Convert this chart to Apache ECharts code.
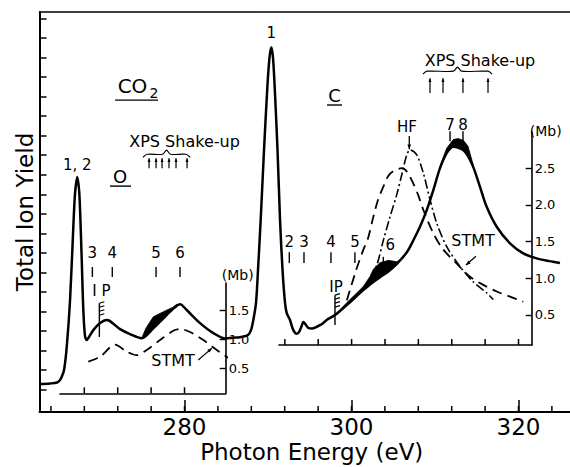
<!DOCTYPE html>
<html><head><meta charset="utf-8">
<script src="https://cdn.jsdelivr.net/npm/echarts@6/dist/echarts.min.js"></script>
<style>html,body{margin:0;padding:0;background:#fff}#c{width:570px;height:467px}</style>
</head><body><div id="c"></div>
<script>
const FONT = 'DejaVu Sans';

// ---- axes ----
const energyMin = 262.63, energyMax = 326.17;          // photon energy (eV)
const energyTicks = [264,268,272,276,280,284,288,292,296,300,304,308,312,316,320,324];
const energyLabelRange = [280, 320], energyLabelStep = 20;
const yieldMin = -1.14, yieldMax = 19.33;              // total ion yield (relative)
const yieldTickRange = [0, 19];

// O-edge inset (Mb)
const oInsetEnergy = [265.09, 284.93];
const oInsetMb = [0.072, 1.974];
const oInsetTicksE = [268,272,276,280];
const oInsetTickMb = [0.5, 1.5];
// C-edge inset (Mb)
const cInsetEnergy = [291.3, 321.58];
const cInsetMb = [0.091, 2.993];
const cInsetTicksE = [292,296,300,304,308,312,316,320];
const cInsetTickMb = [0.5, 2.5];

// ---- total ion yield curve [eV, relative yield] ----
const totalIonYield = [
 [262.63,0.29],[263.89,0.32],[264.73,0.37],[265.09,0.50],[265.29,0.66],[265.57,1.01],[265.89,2.18],
 [266.29,4.59],[266.68,8.32],[266.89,10.06],[267.16,10.88],[267.37,10.22],[267.49,9.19],[267.69,6.63],
 [267.88,4.08],[268.08,2.75],[268.29,2.54],[268.56,2.70],[269.08,3.05],[269.88,3.41],[270.68,3.57],
 [271.08,3.51],[272.28,3.10],[273.47,2.85],[274.87,2.64],[276.26,3.14],[277.46,3.65],[278.66,4.15],
 [279.46,4.38],[280.26,4.08],[281.86,3.41],[283.45,2.90],[284.93,2.62],[285.81,2.66],[286.65,2.69],
 [287.60,2.80],[287.96,3.05],[288.24,3.57],[288.56,4.43],[288.80,6.12],[289.12,8.68],[289.52,12.26],
 [289.92,15.48],[290.18,17.01],[290.40,17.53],[290.60,16.97],[290.80,15.48],[291.14,12.26],[291.44,8.68],
 [291.74,6.12],[292.04,4.43],[292.24,3.92],[292.46,3.72],[292.63,3.57],[293.03,3.05],[293.44,2.87],
 [293.71,2.95],[294.03,3.26],[294.23,3.46],[294.55,3.31],[294.83,3.16],[295.27,3.13],[295.83,3.22],
 [296.47,3.36],[297.03,3.57],[298.02,3.82],[299.43,4.33],[301.41,5.10],[302.22,5.38],[302.61,5.51],
 [303.41,5.76],[304.41,6.05],[305.41,6.43],[306.17,6.79],[306.65,7.05],[307.01,7.31],[308.20,8.34],
 [309.01,9.19],[309.80,10.22],[310.60,11.34],[311.40,12.11],[312.19,12.43],[312.75,12.39],[313.39,12.26],
 [313.95,11.96],[314.59,11.39],[315.39,10.38],[316.19,9.36],[317.39,8.34],[318.98,7.49],[320.57,6.98],
 [322.18,6.72],[323.77,6.58],[324.97,6.48]
];

// ---- shaded (black) regions: lower / upper edges [eV, relative yield] ----
const bandOLower = [[274.87,2.64],[276.26,3.14],[277.46,3.65],[278.66,4.15],[279.07,4.33]];
const bandOUpper = [[274.87,2.64],[275.39,3.16],[276.26,3.73],[277.46,3.99],[278.66,4.23],[279.07,4.38]];
const bandC6Lower = [[298.02,3.82],[299.43,4.33],[301.41,5.10],[302.22,5.38],[302.61,5.51],[303.41,5.76],[304.41,6.05],[305.41,6.43],[306.17,6.79],[306.65,7.05]];
const bandC6Upper = [[298.02,3.82],[299.43,4.45],[301.41,5.28],[302.22,5.80],[302.61,6.16],[303.41,6.50],[304.41,6.62],[305.41,6.55],[306.17,6.72],[306.65,7.05]];
const bandC78Lower = [[310.60,11.34],[311.40,12.11],[312.19,12.43],[312.75,12.39],[313.39,12.26],[313.95,11.96],[314.59,11.39]];
const bandC78Upper = [[310.60,11.44],[311.40,12.36],[312.19,12.80],[312.75,12.85],[313.39,12.77],[313.95,12.46],[314.59,11.49]];
const bands = [[bandOLower,bandOUpper],[bandC6Lower,bandC6Upper],[bandC78Lower,bandC78Upper]];

// ---- theory curves [eV, Mb] ----
const stmtO = [[268.48,0.62],[269.88,0.70],[271.68,0.91],[273.08,0.79],[274.28,0.73],[275.47,0.82],[277.07,0.99],
 [278.66,1.15],[279.46,1.18],[280.66,1.13],[282.25,0.99],[283.86,0.82],[285.05,0.70],[286.25,0.62]];
const stmtC = [[299.43,0.70],[300.54,1.11],[301.41,1.39],[301.98,1.55],[302.61,1.84],[303.17,2.07],[303.81,2.25],
 [304.37,2.39],[305.01,2.46],[306.01,2.50],[306.65,2.45],[307.40,2.29],[307.96,2.14],[308.60,1.93],[309.80,1.61],
 [310.99,1.39],[312.60,1.20],[314.19,1.02],[315.78,0.91],[317.39,0.82],[318.98,0.75],[320.57,0.68]];
const hfC = [[302.22,1.00],[303.02,1.18],[303.81,1.52],[304.61,1.84],[305.41,2.14],[306.01,2.41],[306.61,2.68],
 [307.01,2.75],[307.81,2.68],[308.60,2.43],[309.40,2.07],[310.20,1.75],[311.40,1.43],[312.99,1.16],[314.59,0.95],
 [316.19,0.80],[316.98,0.71]];

// ---- peak assignments and XPS shake-up energies (eV) ----
const oPeaks = [['3',268.96],['4',271.35],['5',276.59],['6',279.46]];
const cPeaks = [['2',292.55],['3',294.31],['4',297.54],['5',300.41],['6',303.81]];
const cPeaks78 = [['7',311.80],['8',313.35]];
const xpsO = [275.75,276.59,277.31,278.14,278.98,280.30];
const xpsC = [309.40,310.96,313.35,316.35];
const ipO = 269.80, ipC = 298.02;
const peakO12 = 267.16, peakC1 = 290.40, hfMax = 306.92;

// ---- layout (pixels) ----
const W = 570, H = 467;
const mainBox = {l:39.5, r:570, t:12, b:412};
const oBox = {l:60, r:225.7, t:283, b:393.3};
const cBox = {l:279, r:531.7, t:132, b:345};

const chart = echarts.init(document.getElementById('c'), null, {renderer:'svg', width:W, height:H});
const black = '#000';

const lin = (v, a0, a1, p0, p1) => p0 + (v - a0) / (a1 - a0) * (p1 - p0);
const ex = (e, box, rng) => lin(e, rng[0], rng[1], box.l, box.r);
const ey = (v, box, rng) => lin(v, rng[0], rng[1], box.b, box.t);

function G(l, r, t, b){ return {left:l, top:t, width:r-l, height:b-t, containLabel:false, outerBoundsMode:'none', show:false}; }

const grids = [
  G(mainBox.l, mainBox.r, mainBox.t, mainBox.b),   // 0 main
  G(oBox.l, oBox.r, oBox.t, oBox.b),               // 1 O inset
  G(cBox.l, cBox.r, cBox.t, cBox.b),               // 2 C inset
  G(ex(energyLabelRange[0],mainBox,[energyMin,energyMax]), ex(energyLabelRange[1],mainBox,[energyMin,energyMax]), mainBox.t, mainBox.b), // 3 labels
  G(mainBox.l, mainBox.r, ey(yieldTickRange[1],mainBox,[yieldMin,yieldMax]), ey(yieldTickRange[0],mainBox,[yieldMin,yieldMax])),       // 4 yield ticks
  G(oBox.l, oBox.r, ey(oInsetTickMb[1],oBox,oInsetMb), ey(oInsetTickMb[0],oBox,oInsetMb)),   // 5 O Mb ticks
  G(cBox.l, cBox.r, ey(cInsetTickMb[1],cBox,cInsetMb), ey(cInsetTickMb[0],cBox,cInsetMb))    // 6 C Mb ticks
];

function ax(extra){
  return Object.assign({type:'value', splitLine:{show:false}, axisLabel:{show:false}, axisTick:{show:false},
    axisLine:{show:false, onZero:false}}, extra);
}
const lineOn = w => ({show:true, onZero:false, lineStyle:{color:black, width:w}});
const tickIn = (len, w) => ({show:true, inside:true, length:len, lineStyle:{color:black, width:w}});

const xAxes = [
  ax({gridIndex:0, position:'bottom', min:energyMin, max:energyMax, axisLine:lineOn(2),
      name:'Photon Energy (eV)', nameLocation:'middle', nameGap:28,
      nameTextStyle:{fontFamily:FONT, fontSize:23, color:black, padding:[0,0,0,14]}}),       // 0
  ax({gridIndex:0, position:'top', min:energyMin, max:energyMax, axisLine:lineOn(1.6)}),    // 1
  ax({gridIndex:1, position:'bottom', min:oInsetEnergy[0], max:oInsetEnergy[1], axisLine:lineOn(1.6)}), // 2
  ax({gridIndex:2, position:'bottom', min:cInsetEnergy[0], max:cInsetEnergy[1], axisLine:lineOn(1.6)}), // 3
  ax({gridIndex:3, position:'bottom', min:energyLabelRange[0], max:energyLabelRange[1], interval:energyLabelStep,
      axisTick:tickIn(12,1.5), axisLabel:{show:true, fontFamily:FONT, fontSize:23, color:black, margin:3}}), // 4
  ax({gridIndex:4, position:'bottom', min:0, max:1}),   // 5 placeholder
  ax({gridIndex:5, position:'bottom', min:0, max:1}),   // 6 placeholder
  ax({gridIndex:6, position:'bottom', min:0, max:1})    // 7 placeholder
];
const mbLabel = {show:true, formatter:v=>v.toFixed(1), fontFamily:FONT, fontSize:13, color:black, margin:3};
const yAxes = [
  ax({gridIndex:0, position:'left', min:yieldMin, max:yieldMax, axisLine:lineOn(2),
      name:'Total Ion Yield', nameLocation:'middle', nameGap:3,
      nameTextStyle:{fontFamily:FONT, fontSize:23, color:black}}),                          // 0
  ax({gridIndex:1, position:'right', min:oInsetMb[0], max:oInsetMb[1], axisLine:lineOn(1.6),
      name:'(Mb)', nameLocation:'end', nameGap:8,
      nameTextStyle:{fontFamily:FONT, fontSize:14, color:black, align:'left', verticalAlign:'middle', padding:[0,0,0,-4]}}), // 1
  ax({gridIndex:2, position:'right', min:cInsetMb[0], max:cInsetMb[1], axisLine:lineOn(1.6),
      name:'(Mb)', nameLocation:'end', nameGap:1,
      nameTextStyle:{fontFamily:FONT, fontSize:14, color:black, align:'left', verticalAlign:'middle', padding:[0,0,0,-2]}}), // 2
  ax({gridIndex:3, min:0, max:1}),                                                          // 3 placeholder
  ax({gridIndex:4, position:'left', min:yieldTickRange[0], max:yieldTickRange[1], interval:1, axisTick:tickIn(7,1.5)}), // 4
  ax({gridIndex:5, position:'right', min:oInsetTickMb[0], max:oInsetTickMb[1], interval:0.5,
      axisTick:tickIn(6,1.4), axisLabel:mbLabel}),                                          // 5
  ax({gridIndex:6, position:'right', min:cInsetTickMb[0], max:cInsetTickMb[1], interval:0.5,
      axisTick:tickIn(6,1.4), axisLabel:mbLabel})                                           // 6
];

// tick marks along an energy axis: one group, each tick placed via the grid's own scale
function tickGroup(ticks, yBase, len){
  return function(params, api){
    return {type:'group', children: ticks.map(e => {
      const p = api.coord([e, yBase]);
      return {type:'rect', shape:{x:p[0]-0.75, y:p[1]-len, width:1.5, height:len}, style:{fill:black}};
    })};
  };
}

function renderBands(params, api){
  const pair = bands[params.dataIndex];
  const pts = pair[0].map(p => api.coord(p)).concat(pair[1].slice().reverse().map(p => api.coord(p)));
  return {type:'polygon', shape:{points:pts}, style:{fill:black, stroke:black, lineWidth:0.8}};
}

function renderAnnotations(params, api){
  const P = (e,y) => api.coord([e,y]);
  const kids = [];
  const txt = (e,y,s,size,dx,dy) => { const p = P(e,y); kids.push({type:'text', x:p[0]+(dx||0), y:p[1]+(dy||0),
    style:{text:s, fontSize:size, fontFamily:FONT, fill:black, align:'center', verticalAlign:'middle'}}); };
  const seg = (e1,y1,e2,y2,w) => { const a=P(e1,y1), b=P(e2,y2); kids.push({type:'line',
    shape:{x1:a[0],y1:a[1],x2:b[0],y2:b[1]}, style:{stroke:black, lineWidth:w||1.4}}); };
  const head = (a,b,h) => { const ang=Math.atan2(b[1]-a[1], b[0]-a[0]);
    kids.push({type:'polygon', shape:{points:[b,[b[0]-h*Math.cos(ang-0.38), b[1]-h*Math.sin(ang-0.38)],
      [b[0]-h*Math.cos(ang+0.38), b[1]-h*Math.sin(ang+0.38)]]}, style:{fill:black}}); };
  const arrow = (e1,y1,e2,y2,w,h) => { seg(e1,y1,e2,y2,w); head(P(e1,y1),P(e2,y2),h||5); };
  const hatch = (e,yTop,yBot) => { seg(e,yTop,e,yBot,1.4); const t=P(e,yTop);
    for(let k=0;k<4;k++){ kids.push({type:'line', shape:{x1:t[0], y1:t[1]+k*4, x2:t[0]+5, y2:t[1]+k*4-1.5},
      style:{stroke:black, lineWidth:1.1}}); } };
  const brace = (e1,e2,y,yb) => { const a=P(e1,y), b=P(e2,y), c=P((e1+e2)/2,yb);
    kids.push({type:'polyline', shape:{points:[[a[0],a[1]+3],[a[0]+4,a[1]],[c[0]-4,a[1]],[c[0],c[1]],[c[0]+4,b[1]],[b[0]-4,b[1]],[b[0],b[1]+3]], smooth:0.3},
      style:{stroke:black, lineWidth:1.2, fill:null}}); };

  // minor energy ticks on the main axis
  energyTicks.forEach(e => { const p = P(e, yieldMin);
    kids.push({type:'rect', shape:{x:p[0]-0.75, y:p[1]-6, width:1.5, height:6}, style:{fill:black}}); });

  txt(peakO12,11.49,'1, 2',15);
  txt(peakC1,18.25,'1',15);
  oPeaks.forEach(p => { txt(p[1],6.99,p[0],15); seg(p[1],6.28,p[1],5.77,1.4); });
  cPeaks.forEach((p,i) => {
    if (i === cPeaks.length-1) { txt(p[1],7.40,p[0],15,7,0); seg(p[1],6.80,p[1],6.47,1.4); }
    else { txt(p[1],7.57,p[0],15); seg(p[1],7.04,p[1],6.48,1.4); }
  });
  cPeaks78.forEach(p => { txt(p[1],13.54,p[0],15); seg(p[1],13.23,p[1],12.72,1.4); });
  txt(hfMax-0.27,13.44,'HF',15);
  arrow(hfMax,12.98,hfMax,12.31,1.3,5);
  txt(ipO+0.24,5.05,'I P',15); hatch(ipO,4.43,2.70);
  txt(ipC+0.12,5.25,'IP',15); hatch(ipC,4.84,3.31);
  txt(280.0,12.72,'XPS Shake-up',16);
  brace(275.03,280.66,12.05,12.26);
  xpsO.forEach(e => arrow(e,11.34,e,11.85,1.2,4));
  txt(315.39,16.86,'XPS Shake-up',16);
  brace(308.56,316.83,16.30,16.51);
  xpsC.forEach(e => arrow(e,15.18,e,15.94,1.2,4));
  txt(273.77,15.53,'CO',20); txt(276.35,15.17,'2',14); seg(271.68,14.82,276.83,14.82,1.4);
  txt(272.28,10.93,'O',18); seg(271.08,10.42,273.59,10.42,1.4);
  txt(297.96,15.07,'C',18); seg(297.07,14.57,298.86,14.57,1.4);
  txt(278.62,1.47,'STMT',16); arrow(281.65,1.52,283.29,2.13,1.2,5);
  txt(314.55,7.66,'STMT',16); arrow(314.91,6.83,313.71,6.38,1.2,5);
  return {type:'group', children:kids};
}

const option = {
  animation:false,
  backgroundColor:'#fff',
  grid:grids,
  xAxis:xAxes,
  yAxis:yAxes,
  series:[
    {type:'line', name:'Total ion yield', xAxisIndex:0, yAxisIndex:0, data:totalIonYield, showSymbol:false,
     smooth:0.3, lineStyle:{color:black, width:2.5}, z:5, silent:true},
    {type:'custom', name:'shaded', xAxisIndex:0, yAxisIndex:0, data:bands.map(b => b[0][0]),
     renderItem:renderBands, z:6, silent:true},
    {type:'line', name:'STMT O', xAxisIndex:2, yAxisIndex:1, data:stmtO, showSymbol:false, smooth:0.3, clip:false,
     lineStyle:{color:black, width:1.8, type:[10,6]}, silent:true},
    {type:'line', name:'STMT C', xAxisIndex:3, yAxisIndex:2, data:stmtC, showSymbol:false, smooth:0.3, clip:false,
     lineStyle:{color:black, width:1.8, type:[10,6]}, silent:true},
    {type:'line', name:'HF C', xAxisIndex:3, yAxisIndex:2, data:hfC, showSymbol:false, smooth:0.3, clip:false,
     lineStyle:{color:black, width:1.6, type:[9,3,2,3]}, silent:true},
    {type:'custom', name:'O inset ticks', xAxisIndex:2, yAxisIndex:1, data:[[275, 1.0]],
     renderItem:tickGroup(oInsetTicksE, oInsetMb[0], 6), z:10, silent:true},
    {type:'custom', name:'C inset ticks', xAxisIndex:3, yAxisIndex:2, data:[[305, 1.5]],
     renderItem:tickGroup(cInsetTicksE, cInsetMb[0], 6), z:10, silent:true},
    {type:'custom', name:'annotations', xAxisIndex:0, yAxisIndex:0, data:[[280,5]],
     renderItem:renderAnnotations, z:10, silent:true}
  ]
};
chart.setOption(option);
</script>
</body></html>
